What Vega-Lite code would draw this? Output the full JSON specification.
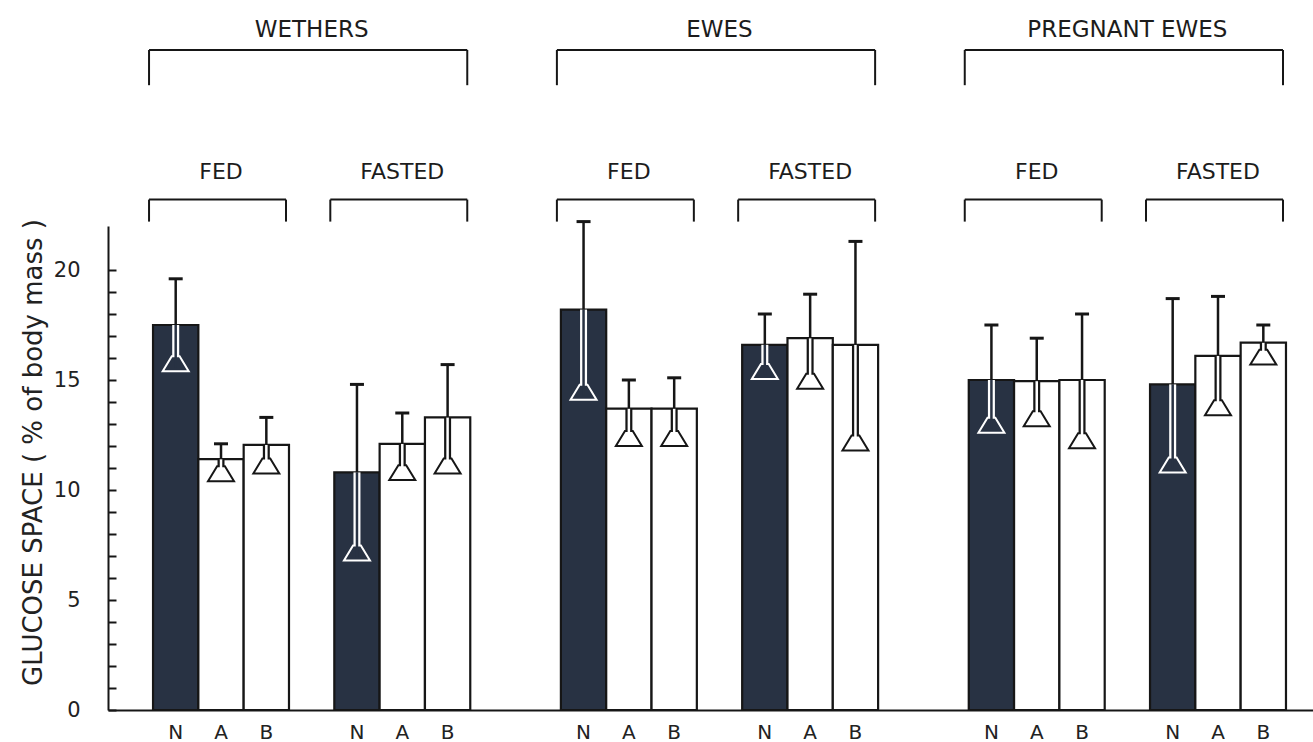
{
  "$schema": "https://vega.github.io/schema/vega-lite/v6.json",
  "width": 1205,
  "height": 484,
  "autosize": {"type": "none"},
  "padding": {"left": 108, "top": 226, "right": 0, "bottom": 32},
  "background": "#ffffff",
  "config": {
    "view": {"stroke": null},
    "font": "DejaVu Sans",
    "axis": {"grid": false, "domainColor": "#161616", "domainWidth": 2, "labelFont": "DejaVu Sans", "labelColor": "#222222", "titleFont": "DejaVu Sans", "titleColor": "#222222", "titleFontWeight": "normal"},
    "axisY": {"labelOverlap": false, "labelBound": false, "labelFlush": false, "labelPadding": 36, "labelFontSize": 21, "tickSize": -8, "tickWidth": 2, "tickColor": "#161616", "titleFontSize": 26},
    "axisX": {"labelOverlap": false, "labelFontSize": 20, "labelPadding": 12, "ticks": false, "labelAngle": 0}
  },
  "datasets": {
    "bars": [
      {"bar": "WETHERS FED N", "trt": "N", "mean": 17.5, "low": 15.4, "high": 19.6},
      {"bar": "WETHERS FED A", "trt": "A", "mean": 11.4, "low": 10.4, "high": 12.1},
      {"bar": "WETHERS FED B", "trt": "B", "mean": 12.05, "low": 10.75, "high": 13.3},
      {"bar": "WETHERS FASTED N", "trt": "N", "mean": 10.8, "low": 6.8, "high": 14.8},
      {"bar": "WETHERS FASTED A", "trt": "A", "mean": 12.1, "low": 10.45, "high": 13.5},
      {"bar": "WETHERS FASTED B", "trt": "B", "mean": 13.3, "low": 10.75, "high": 15.7},
      {"bar": "EWES FED N", "trt": "N", "mean": 18.2, "low": 14.1, "high": 22.2},
      {"bar": "EWES FED A", "trt": "A", "mean": 13.7, "low": 12.0, "high": 15.0},
      {"bar": "EWES FED B", "trt": "B", "mean": 13.7, "low": 12.0, "high": 15.1},
      {"bar": "EWES FASTED N", "trt": "N", "mean": 16.6, "low": 15.05, "high": 18.0},
      {"bar": "EWES FASTED A", "trt": "A", "mean": 16.9, "low": 14.6, "high": 18.9},
      {"bar": "EWES FASTED B", "trt": "B", "mean": 16.6, "low": 11.8, "high": 21.3},
      {"bar": "PREGNANT EWES FED N", "trt": "N", "mean": 15.0, "low": 12.6, "high": 17.5},
      {"bar": "PREGNANT EWES FED A", "trt": "A", "mean": 14.95, "low": 12.9, "high": 16.9},
      {"bar": "PREGNANT EWES FED B", "trt": "B", "mean": 15.0, "low": 11.9, "high": 18.0},
      {"bar": "PREGNANT EWES FASTED N", "trt": "N", "mean": 14.8, "low": 10.8, "high": 18.7},
      {"bar": "PREGNANT EWES FASTED A", "trt": "A", "mean": 16.1, "low": 13.4, "high": 18.8},
      {"bar": "PREGNANT EWES FASTED B", "trt": "B", "mean": 16.7, "low": 15.7, "high": 17.5}
    ],
    "top": [
      {"label": "WETHERS", "first": "WETHERS FED N", "last": "WETHERS FASTED B", "mid": "s1"},
      {"label": "EWES", "first": "EWES FED N", "last": "EWES FASTED B", "mid": "s4"},
      {"label": "PREGNANT EWES", "first": "PREGNANT EWES FED N", "last": "PREGNANT EWES FASTED B", "mid": "s7"}
    ],
    "sub": [
      {"label": "FED", "first": "WETHERS FED N", "last": "WETHERS FED B", "mid": "WETHERS FED A"},
      {"label": "FASTED", "first": "WETHERS FASTED N", "last": "WETHERS FASTED B", "mid": "WETHERS FASTED A"},
      {"label": "FED", "first": "EWES FED N", "last": "EWES FED B", "mid": "EWES FED A"},
      {"label": "FASTED", "first": "EWES FASTED N", "last": "EWES FASTED B", "mid": "EWES FASTED A"},
      {"label": "FED", "first": "PREGNANT EWES FED N", "last": "PREGNANT EWES FED B", "mid": "PREGNANT EWES FED A"},
      {"label": "FASTED", "first": "PREGNANT EWES FASTED N", "last": "PREGNANT EWES FASTED B", "mid": "PREGNANT EWES FASTED A"}
    ]
  },
  "layer": [
    {
      "data": {"name": "bars"},
      "mark": {"type": "bar", "stroke": "#161616", "strokeWidth": 2.2},
      "encoding": {
        "x": {
          "field": "bar", "type": "nominal",
          "scale": {"type": "band", "domain": ["WETHERS FED N","WETHERS FED A","WETHERS FED B","s1","WETHERS FASTED N","WETHERS FASTED A","WETHERS FASTED B","s2","s3","EWES FED N","EWES FED A","EWES FED B","s4","EWES FASTED N","EWES FASTED A","EWES FASTED B","s5","s6","PREGNANT EWES FED N","PREGNANT EWES FED A","PREGNANT EWES FED B","s7","PREGNANT EWES FASTED N","PREGNANT EWES FASTED A","PREGNANT EWES FASTED B"], "paddingInner": 0, "paddingOuter": 0.795, "align": 0.625},
          "axis": {"title": null, "labelExpr": "length(datum.value) > 3 ? slice(datum.value, -1) : ''"}
        },
        "y": {
          "field": "mean", "type": "quantitative",
          "scale": {"domain": [0, 22], "nice": false, "zero": false},
          "axis": {"values": [0,1,2,3,4,5,6,7,8,9,10,11,12,13,14,15,16,17,18,19,20], "labelExpr": "datum.value % 5 === 0 ? datum.label : ''", "title": "GLUCOSE SPACE ( % of body mass )", "titleAngle": 270, "titleX": -75, "titleY": 226, "titleAlign": "center", "titleBaseline": "middle"}
        },
        "fill": {"condition": {"test": "datum.trt === 'N'", "value": "#283243"}, "value": "#ffffff"}
      }
    },
    {
      "data": {"name": "bars"},
      "mark": {"type": "rule", "strokeWidth": 7},
      "encoding": {
        "x": {"field": "bar", "type": "nominal", "axis": {"title": null, "labelExpr": "length(datum.value) > 3 ? slice(datum.value, -1) : ''"}},
        "y": {"field": "low", "type": "quantitative", "axis": {"values": [0,1,2,3,4,5,6,7,8,9,10,11,12,13,14,15,16,17,18,19,20], "labelExpr": "datum.value % 5 === 0 ? datum.label : ''", "title": "GLUCOSE SPACE ( % of body mass )", "titleAngle": 270, "titleX": -75, "titleY": 226, "titleAlign": "center", "titleBaseline": "middle"}},
        "y2": {"field": "mean"},
        "stroke": {"condition": {"test": "datum.trt === 'N'", "value": "#ffffff"}, "value": "#161616"}
      }
    },
    {
      "data": {"name": "bars"},
      "mark": {"type": "point", "filled": true, "shape": "M -1 0 L 1 0 L 0.3 -1.15 L -0.3 -1.15 Z", "size": 676, "strokeWidth": 2, "opacity": 1},
      "encoding": {
        "x": {"field": "bar", "type": "nominal", "axis": {"title": null, "labelExpr": "length(datum.value) > 3 ? slice(datum.value, -1) : ''"}},
        "y": {"field": "low", "type": "quantitative", "axis": {"values": [0,1,2,3,4,5,6,7,8,9,10,11,12,13,14,15,16,17,18,19,20], "labelExpr": "datum.value % 5 === 0 ? datum.label : ''", "title": "GLUCOSE SPACE ( % of body mass )", "titleAngle": 270, "titleX": -75, "titleY": 226, "titleAlign": "center", "titleBaseline": "middle"}},
        "fill": {"condition": {"test": "datum.trt === 'N'", "value": "#283243"}, "value": "#ffffff"},
        "stroke": {"condition": {"test": "datum.trt === 'N'", "value": "#ffffff"}, "value": "#161616"}
      }
    },
    {
      "data": {"name": "bars"},
      "mark": {"type": "rule", "strokeWidth": 2.5, "yOffset": -4},
      "encoding": {
        "x": {"field": "bar", "type": "nominal", "axis": {"title": null, "labelExpr": "length(datum.value) > 3 ? slice(datum.value, -1) : ''"}},
        "y": {"field": "low", "type": "quantitative", "axis": {"values": [0,1,2,3,4,5,6,7,8,9,10,11,12,13,14,15,16,17,18,19,20], "labelExpr": "datum.value % 5 === 0 ? datum.label : ''", "title": "GLUCOSE SPACE ( % of body mass )", "titleAngle": 270, "titleX": -75, "titleY": 226, "titleAlign": "center", "titleBaseline": "middle"}},
        "y2": {"field": "mean"},
        "stroke": {"condition": {"test": "datum.trt === 'N'", "value": "#283243"}, "value": "#ffffff"}
      }
    },
    {
      "data": {"name": "bars"},
      "mark": {"type": "rule", "strokeWidth": 2.5, "color": "#161616"},
      "encoding": {
        "x": {"field": "bar", "type": "nominal", "axis": {"title": null, "labelExpr": "length(datum.value) > 3 ? slice(datum.value, -1) : ''"}},
        "y": {"field": "mean", "type": "quantitative", "axis": {"values": [0,1,2,3,4,5,6,7,8,9,10,11,12,13,14,15,16,17,18,19,20], "labelExpr": "datum.value % 5 === 0 ? datum.label : ''", "title": "GLUCOSE SPACE ( % of body mass )", "titleAngle": 270, "titleX": -75, "titleY": 226, "titleAlign": "center", "titleBaseline": "middle"}},
        "y2": {"field": "high"}
      }
    },
    {
      "data": {"name": "bars"},
      "mark": {"type": "tick", "size": 14, "thickness": 3, "color": "#161616", "opacity": 1},
      "encoding": {
        "x": {"field": "bar", "type": "nominal", "axis": {"title": null, "labelExpr": "length(datum.value) > 3 ? slice(datum.value, -1) : ''"}},
        "y": {"field": "high", "type": "quantitative", "axis": {"values": [0,1,2,3,4,5,6,7,8,9,10,11,12,13,14,15,16,17,18,19,20], "labelExpr": "datum.value % 5 === 0 ? datum.label : ''", "title": "GLUCOSE SPACE ( % of body mass )", "titleAngle": 270, "titleX": -75, "titleY": 226, "titleAlign": "center", "titleBaseline": "middle"}}
      }
    },
    {
      "data": {"name": "top"},
      "mark": {"type": "rule", "strokeWidth": 2, "color": "#161616", "xOffset": -4, "x2Offset": -3},
      "encoding": {
        "x": {"field": "first", "type": "nominal", "bandPosition": 0, "axis": {"title": null, "labelExpr": "length(datum.value) > 3 ? slice(datum.value, -1) : ''"}},
        "x2": {"field": "last", "bandPosition": 1},
        "y": {"datum": 30.0, "type": "quantitative", "axis": {"values": [0,1,2,3,4,5,6,7,8,9,10,11,12,13,14,15,16,17,18,19,20], "labelExpr": "datum.value % 5 === 0 ? datum.label : ''", "title": "GLUCOSE SPACE ( % of body mass )", "titleAngle": 270, "titleX": -75, "titleY": 226, "titleAlign": "center", "titleBaseline": "middle"}}
      }
    },
    {
      "data": {"name": "top"},
      "mark": {"type": "rule", "strokeWidth": 2, "color": "#161616", "xOffset": -4},
      "encoding": {
        "x": {"field": "first", "type": "nominal", "bandPosition": 0, "axis": {"title": null, "labelExpr": "length(datum.value) > 3 ? slice(datum.value, -1) : ''"}},
        "y": {"datum": 30.0, "type": "quantitative", "axis": {"values": [0,1,2,3,4,5,6,7,8,9,10,11,12,13,14,15,16,17,18,19,20], "labelExpr": "datum.value % 5 === 0 ? datum.label : ''", "title": "GLUCOSE SPACE ( % of body mass )", "titleAngle": 270, "titleX": -75, "titleY": 226, "titleAlign": "center", "titleBaseline": "middle"}},
        "y2": {"datum": 28.4}
      }
    },
    {
      "data": {"name": "top"},
      "mark": {"type": "rule", "strokeWidth": 2, "color": "#161616", "xOffset": -3},
      "encoding": {
        "x": {"field": "last", "type": "nominal", "bandPosition": 1, "axis": {"title": null, "labelExpr": "length(datum.value) > 3 ? slice(datum.value, -1) : ''"}},
        "y": {"datum": 30.0, "type": "quantitative", "axis": {"values": [0,1,2,3,4,5,6,7,8,9,10,11,12,13,14,15,16,17,18,19,20], "labelExpr": "datum.value % 5 === 0 ? datum.label : ''", "title": "GLUCOSE SPACE ( % of body mass )", "titleAngle": 270, "titleX": -75, "titleY": 226, "titleAlign": "center", "titleBaseline": "middle"}},
        "y2": {"datum": 28.4}
      }
    },
    {
      "data": {"name": "top"},
      "mark": {"type": "text", "font": "DejaVu Sans", "fontSize": 23, "color": "#1c1c1c", "align": "center", "baseline": "middle"},
      "encoding": {
        "x": {"field": "mid", "type": "nominal", "axis": {"title": null, "labelExpr": "length(datum.value) > 3 ? slice(datum.value, -1) : ''"}},
        "y": {"datum": 30.9, "type": "quantitative", "axis": {"values": [0,1,2,3,4,5,6,7,8,9,10,11,12,13,14,15,16,17,18,19,20], "labelExpr": "datum.value % 5 === 0 ? datum.label : ''", "title": "GLUCOSE SPACE ( % of body mass )", "titleAngle": 270, "titleX": -75, "titleY": 226, "titleAlign": "center", "titleBaseline": "middle"}},
        "text": {"field": "label"}
      }
    },
    {
      "data": {"name": "sub"},
      "mark": {"type": "rule", "strokeWidth": 2, "color": "#161616", "xOffset": -4, "x2Offset": -3},
      "encoding": {
        "x": {"field": "first", "type": "nominal", "bandPosition": 0, "axis": {"title": null, "labelExpr": "length(datum.value) > 3 ? slice(datum.value, -1) : ''"}},
        "x2": {"field": "last", "bandPosition": 1},
        "y": {"datum": 23.2, "type": "quantitative", "axis": {"values": [0,1,2,3,4,5,6,7,8,9,10,11,12,13,14,15,16,17,18,19,20], "labelExpr": "datum.value % 5 === 0 ? datum.label : ''", "title": "GLUCOSE SPACE ( % of body mass )", "titleAngle": 270, "titleX": -75, "titleY": 226, "titleAlign": "center", "titleBaseline": "middle"}}
      }
    },
    {
      "data": {"name": "sub"},
      "mark": {"type": "rule", "strokeWidth": 2, "color": "#161616", "xOffset": -4},
      "encoding": {
        "x": {"field": "first", "type": "nominal", "bandPosition": 0, "axis": {"title": null, "labelExpr": "length(datum.value) > 3 ? slice(datum.value, -1) : ''"}},
        "y": {"datum": 23.2, "type": "quantitative", "axis": {"values": [0,1,2,3,4,5,6,7,8,9,10,11,12,13,14,15,16,17,18,19,20], "labelExpr": "datum.value % 5 === 0 ? datum.label : ''", "title": "GLUCOSE SPACE ( % of body mass )", "titleAngle": 270, "titleX": -75, "titleY": 226, "titleAlign": "center", "titleBaseline": "middle"}},
        "y2": {"datum": 22.2}
      }
    },
    {
      "data": {"name": "sub"},
      "mark": {"type": "rule", "strokeWidth": 2, "color": "#161616", "xOffset": -3},
      "encoding": {
        "x": {"field": "last", "type": "nominal", "bandPosition": 1, "axis": {"title": null, "labelExpr": "length(datum.value) > 3 ? slice(datum.value, -1) : ''"}},
        "y": {"datum": 23.2, "type": "quantitative", "axis": {"values": [0,1,2,3,4,5,6,7,8,9,10,11,12,13,14,15,16,17,18,19,20], "labelExpr": "datum.value % 5 === 0 ? datum.label : ''", "title": "GLUCOSE SPACE ( % of body mass )", "titleAngle": 270, "titleX": -75, "titleY": 226, "titleAlign": "center", "titleBaseline": "middle"}},
        "y2": {"datum": 22.2}
      }
    },
    {
      "data": {"name": "sub"},
      "mark": {"type": "text", "font": "DejaVu Sans", "fontSize": 22, "color": "#1c1c1c", "align": "center", "baseline": "middle"},
      "encoding": {
        "x": {"field": "mid", "type": "nominal", "axis": {"title": null, "labelExpr": "length(datum.value) > 3 ? slice(datum.value, -1) : ''"}},
        "y": {"datum": 24.45, "type": "quantitative", "axis": {"values": [0,1,2,3,4,5,6,7,8,9,10,11,12,13,14,15,16,17,18,19,20], "labelExpr": "datum.value % 5 === 0 ? datum.label : ''", "title": "GLUCOSE SPACE ( % of body mass )", "titleAngle": 270, "titleX": -75, "titleY": 226, "titleAlign": "center", "titleBaseline": "middle"}},
        "text": {"field": "label"}
      }
    }
  ]
}
